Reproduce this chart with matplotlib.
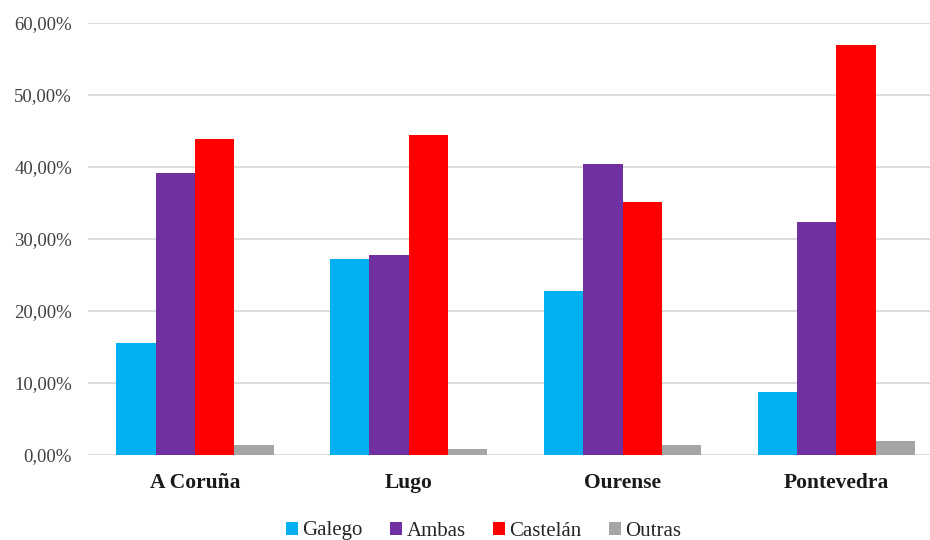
import matplotlib.pyplot as plt
import numpy as np
from matplotlib.ticker import FuncFormatter
from matplotlib.font_manager import FontProperties

provincias = ['A Coruña', 'Lugo', 'Ourense', 'Pontevedra']
series = ['Galego', 'Ambas', 'Castelán', 'Outras']
galego = [15.6, 27.2, 22.8, 8.8]
ambas = [39.2, 27.7, 40.4, 32.4]
castelan = [43.9, 44.4, 35.1, 56.9]
outras = [1.4, 0.9, 1.4, 2.0]
cores = ['#00B0F0', '#7030A0', '#FF0000', '#A5A5A5']

plt.rcParams['font.family'] = ['Liberation Serif', 'DejaVu Serif']

fig = plt.figure(figsize=(9.3, 5.4), dpi=100)
ax = fig.add_axes([88/930, 85/540, 842/930, 432.3/540])

xpos = np.arange(len(provincias))
width = 0.184
datos = [galego, ambas, castelan, outras]
for i, (nome, vals, cor) in enumerate(zip(series, datos, cores)):
    ax.bar(xpos + (i - 1.5) * width, np.array(vals) / 100, width,
           color=cor, label=nome, zorder=3)

ax.set_xlim(-0.5, -0.5 + 842/213.8)
ax.set_ylim(0, 0.6)
ax.set_yticks(np.arange(0, 0.61, 0.1))
ax.yaxis.set_major_formatter(FuncFormatter(lambda v, p: f'{v*100:.2f}%'.replace('.', ',')))
ax.grid(axis='y', color='#d9d9d9', linewidth=1.3, zorder=0)
for s in ax.spines.values():
    s.set_visible(False)
ax.tick_params(axis='y', length=0, pad=11.5, labelsize=13.5, labelcolor='#404040')
ax.tick_params(axis='x', length=0, pad=13)
ax.set_xticks(xpos)
ax.set_xticklabels(provincias, fontsize=15.5, fontweight='bold', color='#1a1a1a')

fig.legend(loc='center', bbox_to_anchor=(0.52, 9/540), ncol=4, frameon=False,
           prop=FontProperties(family=['Liberation Serif', 'DejaVu Serif'], size=15),
           handlelength=0.6, handleheight=0.6, handletextpad=0.2,
           columnspacing=1.3, labelcolor='#262626')

fig.savefig('out.png', dpi=100)
